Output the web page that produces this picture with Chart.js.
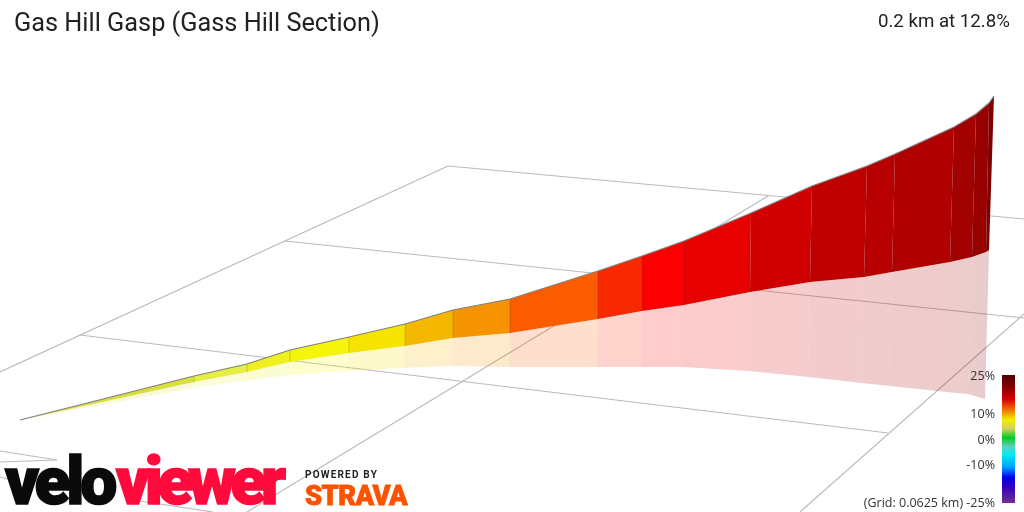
<!DOCTYPE html>
<html><head><meta charset="utf-8">
<script src="https://cdn.jsdelivr.net/npm/chart.js@4"></script>
<style>
html,body{margin:0;padding:0;background:#fff;overflow:hidden}
#wrap{position:relative;width:1024px;height:512px;overflow:hidden}
canvas{position:absolute;left:0;top:0}
.t{position:absolute;white-space:nowrap;line-height:1}
.title{left:14px;top:8px;font:25.3px Roboto,sans-serif;color:#222}
.sub{right:14px;top:10px;font:18.7px Roboto,sans-serif;color:#222}
.lg{right:29px;font:12.5px "Open Sans",sans-serif;color:#333}
.logo{font:900 66px Roboto,sans-serif;-webkit-text-stroke:1.6px currentColor;letter-spacing:-5.2px;top:443px}
.pow{left:305px;top:469px;font:bold 10px Roboto,sans-serif;letter-spacing:1.2px;color:#222}
.str{left:305px;top:480px;font:900 27.4px Roboto,sans-serif;-webkit-text-stroke:.8px #fc5200;color:#fc5200;letter-spacing:-.6px}
</style></head><body>
<div id="wrap"><canvas id="c" width="1024" height="512"></canvas>
<div class="t title">Gas Hill Gasp (Gass Hill Section)</div>
<div class="t sub">0.2 km at 12.8%</div>
<div class="t lg" style="top:367px">25%</div>
<div class="t lg" style="top:405px">10%</div>
<div class="t lg" style="top:431px">0%</div>
<div class="t lg" style="top:456px">-10%</div>
<div class="t lg" style="top:494px">(Grid: 0.0625 km) -25%</div>
<div class="t logo" style="left:5px;color:#0a0a0a;letter-spacing:-4.2px">velo</div>
<div class="t logo" style="left:116px;color:#ff0a3c;letter-spacing:-5.4px">viewer</div>
<div class="t pow">POWERED BY</div>
<div class="t str">STRAVA</div>
</div>
<script>
// Ribbon profile (one entry per section boundary)
const topX    = [20,194,247,290,349,405,453,510,598,642,684,751,812,867,895,954,976,989,994];
const topY    = [420,376,364,350,337,324,310,299,271,256,241,213,186,166,154,127,114,103,96];
const baseX   = [20,194,247,290,349,405,453,510,598,642,684,750,810,864,892,950,972,986,989];
const baseY   = [420,382,372,362,353,346,338,333,319,311,305,292,282,277,272,262,257,252,250];
const shadowX = [20,192,245,288,347,403,451,509,597,641,683,749,808,862,890,946,968,981,985];
const shadowY = [420,388,381,375,371,368,366,367,367,367,367,371,377,383,386,392,394,398,399];
const sectionColors = ['#d9df3c','#e6ee44','#f0f01e','#f5f50a','#f7e300','#f5b800','#f59300','#fb5c00','#f82800','#fb0000','#e60000','#d10000','#bf0000','#b80000','#b00000','#a30000','#980000','#800000'];
// Ground grid
const gridStartX = [448,285,80,448,768,1024,0,0,0,133];
const gridStartY = [166,241,335,166,196,314,451,462,477,500];
const gridEndX   = [1024,1024,888,0,247,800,57,57,20,213];
const gridEndY   = [219,318,433,372,512,512,460,460,482,512];
// Gradient legend
const rampStops  = [0,0.1,0.19,0.27,0.35,0.42,0.49,0.56,0.62,0.72,0.8,0.87,1];
const rampColors = ['#4d0000','#8a0000','#d80000','#ee7000','#f0f000','#d0d060','#00cc22','#60d0c0','#00eeee','#00a0ff','#0000ee','#3000c0','#703090'];
const rampX = [1002,1015,1015,1002,1002];
const rampY = [375,375,503,503,375];

const pts=(xs,ys)=>xs.map((x,i)=>({x,y:ys[i]}));
const base={type:'scatter',showLine:true,pointRadius:0,pointHoverRadius:0,tension:0,clip:false};
const ds=[];
const poly=(data,color)=>({...base,data,backgroundColor:color,borderColor:color,borderWidth:0,fill:'shape'});
const line=(data,color,w)=>({...base,data,borderColor:color,borderWidth:w,fill:false});
const alpha=h=>{const n=parseInt(h.slice(1),16);return `rgba(${n>>16},${n>>8&255},${n&255},0.2)`};

gridStartX.forEach((x,i)=>ds.push(line([{x,y:gridStartY[i]},{x:gridEndX[i],y:gridEndY[i]}],'#bbbbbb',1.2)));
sectionColors.forEach((c,i)=>{
  ds.push(poly([{x:baseX[i],y:baseY[i]},{x:baseX[i+1],y:baseY[i+1]},{x:shadowX[i+1],y:shadowY[i+1]},{x:shadowX[i],y:shadowY[i]},{x:baseX[i],y:baseY[i]}],alpha(c)));
});
sectionColors.forEach((c,i)=>{
  ds.push(poly([{x:topX[i],y:topY[i]},{x:topX[i+1],y:topY[i+1]},{x:baseX[i+1],y:baseY[i+1]},{x:baseX[i],y:baseY[i]},{x:topX[i],y:topY[i]}],c));
});
for(let i=1;i<topX.length-1;i++) ds.push(line([{x:topX[i],y:topY[i]},{x:baseX[i],y:baseY[i]}],'rgba(60,60,60,0.1)',0.7));
ds.push(line(pts(topX,topY),'#808080',1.2));
const cv=document.getElementById('c');
const rampGrad=cv.getContext('2d').createLinearGradient(0,rampY[0],0,rampY[2]);
rampStops.forEach((s,i)=>rampGrad.addColorStop(s,rampColors[i]));
ds.push(poly(pts(rampX,rampY),rampGrad));

new Chart(cv,{
  type:'scatter',
  data:{datasets:ds.reverse()},
  options:{responsive:false,animation:false,events:[],devicePixelRatio:1,
    layout:{padding:0},
    plugins:{legend:{display:false},tooltip:{enabled:false},title:{display:false}},
    scales:{
      x:{type:'linear',min:0,max:1024,display:false},
      y:{type:'linear',min:0,max:512,reverse:true,display:false}
    }}
});
</script>
</body></html>
